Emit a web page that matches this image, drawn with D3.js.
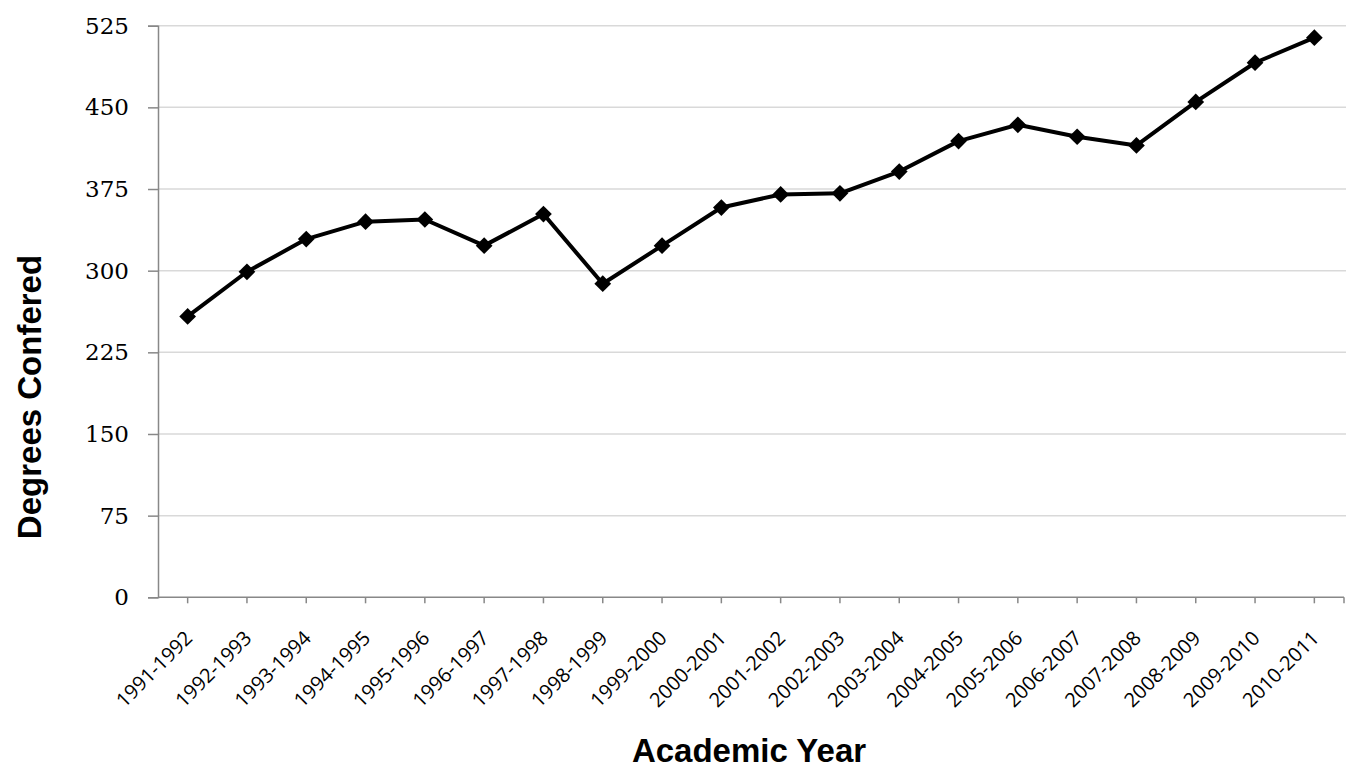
<!DOCTYPE html>
<html>
<head>
<meta charset="utf-8">
<script src="https://cdn.jsdelivr.net/npm/d3@7"></script>
<style>
  html, body { margin: 0; padding: 0; background: #fff; }
</style>
</head>
<body>
<div id="chart"></div>
<script>
// Line chart: degrees conferred per academic year, 1991-1992 to 2010-2011

const years = [
  "1991-1992", "1992-1993", "1993-1994", "1994-1995", "1995-1996",
  "1996-1997", "1997-1998", "1998-1999", "1999-2000", "2000-2001",
  "2001-2002", "2002-2003", "2003-2004", "2004-2005", "2005-2006",
  "2006-2007", "2007-2008", "2008-2009", "2009-2010", "2010-2011"
];
const degrees = [
  258, 299, 329, 345, 347, 323, 352, 288, 323, 358,
  370, 371, 391, 419, 434, 423, 415, 455, 491, 514
];
const yTicks = [0, 75, 150, 225, 300, 375, 450, 525];

const width = 1350, height = 768;
const plot = { left: 158, right: 1344, top: 25.7, bottom: 597.3 };

const svg = d3.select("#chart")
  .append("svg")
  .attr("width", width)
  .attr("height", height);

// SCALES
const xScale = d3.scalePoint()
  .domain(years)
  .range([plot.left, plot.right])
  .padding(0.5);

const yScale = d3.scaleLinear()
  .domain([0, 525])
  .range([plot.bottom, plot.top]);

// GRIDLINES
svg.append("g")
  .selectAll("line")
  .data(yTicks.filter(d => d > 0))
  .join("line")
  .attr("x1", plot.left).attr("x2", plot.right + 2)
  .attr("y1", d => yScale(d)).attr("y2", d => yScale(d))
  .style("stroke", "#d9d9d9")
  .style("stroke-width", 1.5);

// Y AXIS
const yAxis = svg.append("g")
  .attr("transform", `translate(${plot.left},0)`)
  .call(d3.axisLeft(yScale).tickValues(yTicks).tickSize(10).tickPadding(19));
yAxis.select(".domain").style("stroke", "#888").style("stroke-width", 1.5);
yAxis.selectAll(".tick line").style("stroke", "#888").style("stroke-width", 1.5);
yAxis.selectAll("text")
  .style("font-family", "'DejaVu Serif', serif")
  .style("font-size", "23px")
  .style("fill", "#000");

// X AXIS (ticks at category centres, plus one at the axis end)
const xAxis = svg.append("g")
  .attr("transform", `translate(0,${plot.bottom})`);
xAxis.append("line")
  .attr("x1", plot.left).attr("x2", plot.right)
  .style("stroke", "#888").style("stroke-width", 1.5);
xAxis.selectAll(".xtick")
  .data(years.map(d => xScale(d)).concat([plot.right]))
  .join("line")
  .attr("class", "xtick")
  .attr("x1", d => d).attr("x2", d => d)
  .attr("y1", 0).attr("y2", 6)
  .style("stroke", "#888").style("stroke-width", 1.5);
xAxis.selectAll(".xlabel")
  .data(years)
  .join("text")
  .attr("class", "xlabel")
  .attr("transform", d => `translate(${xScale(d) + 6},${42}) rotate(-45)`)
  .attr("text-anchor", "end")
  .style("font-family", "'Open Sans', sans-serif")
  .style("font-size", "20px")
  .style("fill", "#000")
  .text(d => d);

// LINE
const lineGen = d3.line()
  .x((d, i) => xScale(years[i]))
  .y(d => yScale(d));

svg.append("path")
  .datum(degrees)
  .attr("d", lineGen)
  .style("fill", "none")
  .style("stroke", "#000")
  .style("stroke-width", 4)
  .style("stroke-linejoin", "round");

// DIAMOND MARKERS
const diamond = d3.symbol().type(d3.symbolSquare).size(140);
svg.append("g")
  .selectAll("path")
  .data(degrees)
  .join("path")
  .attr("transform", (d, i) => `translate(${xScale(years[i])},${yScale(d)}) rotate(45)`)
  .attr("d", diamond)
  .style("fill", "#000");

// AXIS TITLES
svg.append("text")
  .attr("x", 749)
  .attr("y", 762)
  .attr("text-anchor", "middle")
  .style("font-family", "'Liberation Sans', Arial, sans-serif")
  .style("font-weight", "bold")
  .style("font-size", "33px")
  .text("Academic Year");

svg.append("text")
  .attr("transform", "translate(41,397) rotate(-90)")
  .attr("text-anchor", "middle")
  .style("font-family", "'Liberation Sans', Arial, sans-serif")
  .style("font-weight", "bold")
  .style("font-size", "33px")
  .text("Degrees Confered");
</script>
</body>
</html>
